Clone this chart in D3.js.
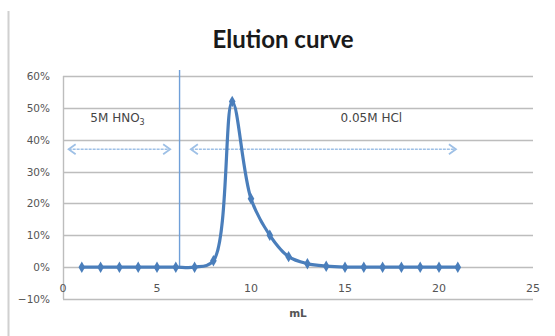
<!DOCTYPE html>
<html>
<head>
<meta charset="utf-8">
<title>Elution curve</title>
<style>
  body { margin: 0; background: #fff; }
  svg { display: block; }
</style>
</head>
<body>
<svg width="555" height="336"></svg>
<script src="https://d3js.org/d3.v7.min.js"></script>
<script>
// data
const volume = [1, 2, 3, 4, 5, 6, 7, 8, 9, 10, 11, 12, 13, 14, 15, 16, 17, 18, 19, 20, 21]
const fraction = [0, 0, 0, 0, 0, 0, 0, 0.02, 0.52, 0.215, 0.10, 0.033, 0.011, 0.003, 0, 0, 0, 0, 0, 0, 0]
const xTicks = [0, 5, 10, 15, 20, 25]
const yTicks = [-0.1, 0, 0.1, 0.2, 0.3, 0.4, 0.5, 0.6]
const switchAt = 6.2
const phases = [
  {label: "5M HNO", sub: "3", from: 0.3, to: 5.7, textAt: 2.9},
  {label: "0.05M HCl", sub: null, from: 6.8, to: 20.9, textAt: 16.4}
]
const arrowY = 0.37
const labelY = 0.455

const blue = "#4a7ebb"
const svg = d3.select("svg")
const font = "Lato, 'Liberation Sans', sans-serif"
const tickFont = "'DejaVu Sans', sans-serif"

const x = d3.scaleLinear().domain([0, 25]).range([63, 533])
const y = d3.scaleLinear().domain([-0.1, 0.6]).range([299, 76])

// chart frame, left edge only visible
svg.append("line")
  .attr("x1", 8.5).attr("x2", 8.5).attr("y1", 11).attr("y2", 336)
  .attr("stroke", "#d0d0d0").attr("stroke-width", 2)

svg.append("text")
  .attr("x", 283).attr("y", 48)
  .attr("text-anchor", "middle")
  .attr("font-family", font).attr("font-weight", "bold").attr("font-size", 24)
  .attr("fill", "#1a1a1a")
  .text("Elution curve")

// gridlines
svg.append("g").selectAll("line")
  .data(yTicks)
  .join("line")
    .attr("x1", x(0)).attr("x2", x(25))
    .attr("y1", d => Math.round(y(d)) + 0.5).attr("y2", d => Math.round(y(d)) + 0.5)
    .attr("stroke", "#bdbdbd").attr("stroke-width", 1.4)

svg.append("line")
  .attr("x1", x(0) + 0.5).attr("x2", x(0) + 0.5)
  .attr("y1", y(0.6)).attr("y2", y(-0.1))
  .attr("stroke", "#bdbdbd").attr("stroke-width", 1.4)

// y labels
svg.append("g").selectAll("text")
  .data(yTicks)
  .join("text")
    .attr("x", 50).attr("y", d => y(d) + 4)
    .attr("text-anchor", "end")
    .attr("font-family", tickFont).attr("font-size", 10.5)
    .attr("fill", "#555")
    .text(d => d3.format(".0%")(d))

// x labels sit under the 0% line
svg.append("g").selectAll("text")
  .data(xTicks)
  .join("text")
    .attr("x", d => x(d)).attr("y", 292)
    .attr("text-anchor", "middle")
    .attr("font-family", tickFont).attr("font-size", 11)
    .attr("fill", "#555")
    .text(d => d)

svg.append("text")
  .attr("x", 298).attr("y", 317)
  .attr("text-anchor", "middle")
  .attr("font-family", tickFont).attr("font-weight", "bold").attr("font-size", 10.5)
  .attr("fill", "#555")
  .text("mL")

// switch of eluent
svg.append("line")
  .attr("x1", x(switchAt)).attr("x2", x(switchAt))
  .attr("y1", 70).attr("y2", y(0))
  .attr("stroke", "#6f9fd8").attr("stroke-width", 1.4)

// double arrows
const arrows = svg.append("g")
  .attr("stroke", "#9ec0e6").attr("fill", "none").attr("stroke-width", 1.4)
phases.forEach(p => {
  const x1 = x(p.from), x2 = x(p.to), yy = y(arrowY)
  arrows.append("line")
    .attr("x1", x1).attr("x2", x2).attr("y1", yy).attr("y2", yy)
    .attr("stroke-dasharray", "3,1")
  arrows.append("path").attr("d", `M${x1 + 7},${yy - 5}L${x1},${yy}L${x1 + 7},${yy + 5}`).attr("stroke-width", 1.8)
  arrows.append("path").attr("d", `M${x2 - 7},${yy - 5}L${x2},${yy}L${x2 - 7},${yy + 5}`).attr("stroke-width", 1.8)
  const t = svg.append("text")
    .attr("x", x(p.textAt)).attr("y", y(labelY))
    .attr("text-anchor", "middle")
    .attr("font-family", tickFont).attr("font-size", 12)
    .attr("fill", "#444")
    .text(p.label)
  if (p.sub) t.append("tspan").attr("dy", 3).attr("font-size", 8).text(p.sub)
})

// curve
const pts = volume.map((v, i) => [v, fraction[i]])
const line = d3.line()
  .x(d => x(d[0]))
  .y(d => y(d[1]))
  .curve(d3.curveCatmullRom.alpha(0.5))

svg.append("path")
  .datum(pts)
  .attr("d", line)
  .attr("fill", "none")
  .attr("stroke", blue)
  .attr("stroke-width", 3.2)

svg.append("g").selectAll("path")
  .data(pts)
  .join("path")
    .attr("transform", d => `translate(${x(d[0])},${y(d[1])})`)
    .attr("d", d3.symbol(d3.symbolDiamond, 38))
    .attr("fill", blue)
</script>
</body>
</html>
